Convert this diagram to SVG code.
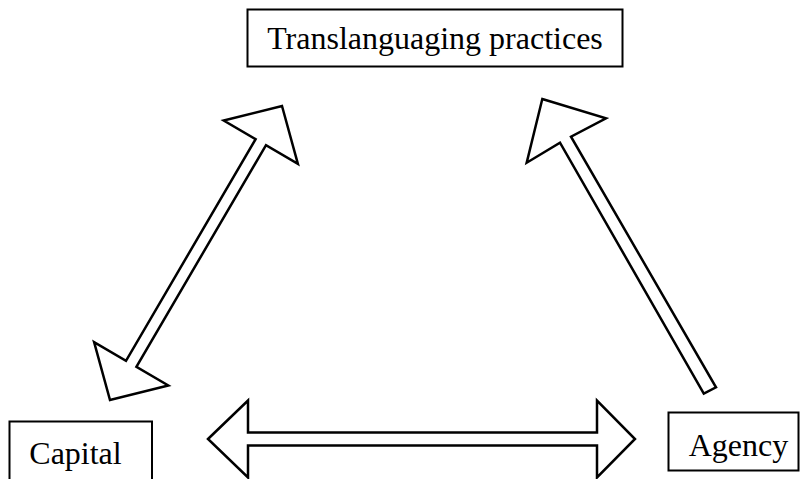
<svg xmlns="http://www.w3.org/2000/svg" width="800" height="479" viewBox="0 0 800 479">
  <style>
    .box { fill: #ffffff; stroke: #000000; stroke-width: 2; }
    .label { font-family: "Liberation Serif", "Times New Roman", serif; font-size: 32px; fill: #000000; }
    .arrow { fill: #ffffff; stroke: #000000; stroke-width: 2.5; stroke-linejoin: miter; }
  </style>
  <rect width="800" height="479" fill="#ffffff"/>

  <g id="connectors">
    <!-- Translanguaging practices <-> Capital -->
    <polygon class="arrow" points="282,106 297.9,163.9 266,145.2 136.4,366.8 168.3,385.5 110,400 94.1,342.1 126,360.8 255.6,139.2 223.7,120.5"/>
    <!-- Agency -> Translanguaging practices -->
    <polygon class="arrow" points="542.3,99 606,118.3 571,136.7 716,387.3 703.8,393.5 560,142.7 526.7,162.7"/>
    <!-- Capital <-> Agency -->
    <polygon class="arrow" points="208,439 248,400.5 248,432.5 597,432.5 597,400.5 635,439 597,477.5 597,445.5 248,445.5 248,477.5"/>
  </g>

  <g id="node-translanguaging">
    <rect class="box" x="247.5" y="9.5" width="375" height="57"/>
    <text class="label" x="435" y="48.5" text-anchor="middle">Translanguaging practices</text>
  </g>

  <g id="node-capital">
    <rect class="box" x="9.5" y="421.5" width="142.5" height="62"/>
    <text class="label" x="75.5" y="464" text-anchor="middle">Capital</text>
  </g>

  <g id="node-agency">
    <rect class="box" x="668.5" y="412.5" width="130" height="58"/>
    <text class="label" x="738.5" y="455.5" text-anchor="middle">Agency</text>
  </g>
</svg>
